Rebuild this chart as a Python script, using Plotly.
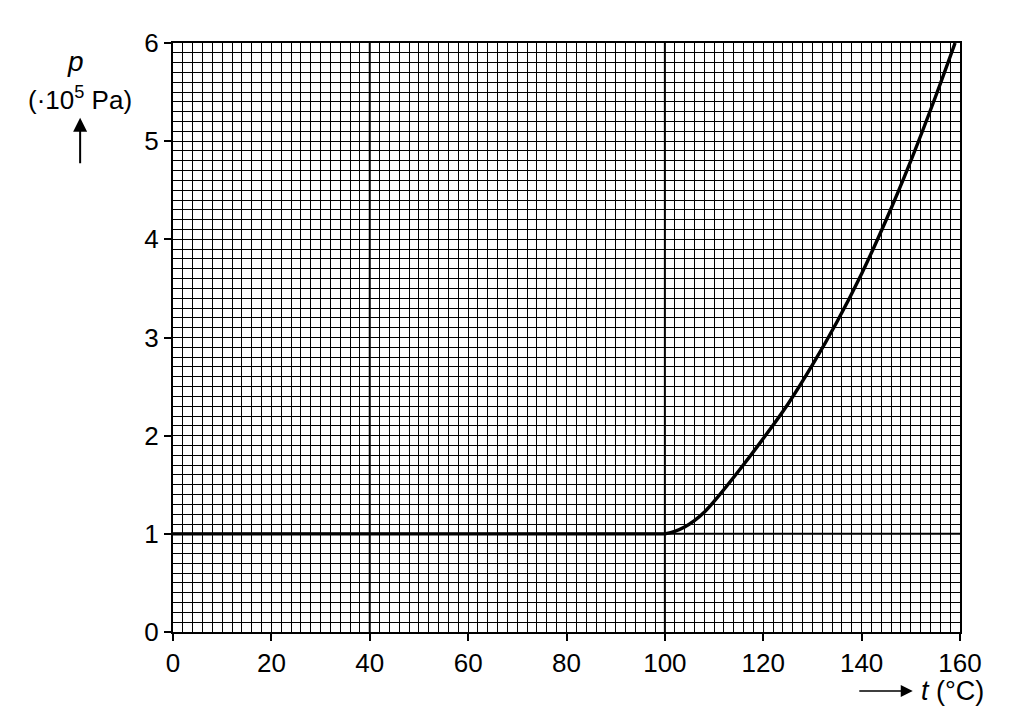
import plotly.graph_objects as go

# vapour pressure curve
flat_t = [0, 100]
flat_p = [1.0, 1.0]
curve_t = [100, 102, 104, 106, 108, 110, 115, 120, 125, 130, 135, 140, 145, 150, 155, 159]
curve_p = [1.0, 1.025, 1.07, 1.135, 1.22, 1.33, 1.64, 1.97, 2.32, 2.72, 3.16, 3.65, 4.20, 4.80, 5.45, 6.0]

x_ticks = [0, 20, 40, 60, 80, 100, 120, 140, 160]
y_ticks = [0, 1, 2, 3, 4, 5, 6]
bold_t = [40, 100]
bold_p = [1]

FONT = "Liberation Sans, Arial, sans-serif"

fig = go.Figure()
fig.add_trace(go.Scatter(x=flat_t, y=flat_p, mode="lines",
                         line=dict(color="black", width=3.2), hoverinfo="skip"))
fig.add_trace(go.Scatter(x=curve_t, y=curve_p, mode="lines",
                         line=dict(color="black", width=3.4, shape="spline", smoothing=1.0),
                         hoverinfo="skip"))

for t in bold_t:
    fig.add_shape(type="line", xref="x", yref="y", x0=t, x1=t, y0=0, y1=6,
                  line=dict(color="black", width=2), layer="below")
for p in bold_p:
    fig.add_shape(type="line", xref="x", yref="y", x0=0, x1=160, y0=p, y1=p,
                  line=dict(color="black", width=2), layer="below")

axis_common = dict(
    showline=True, linecolor="black", linewidth=2, mirror=True,
    ticks="outside", ticklen=7, tickwidth=2, tickcolor="black",
    showgrid=True, gridcolor="black", gridwidth=1,
    zeroline=False, tickfont=dict(family=FONT, size=26, color="black"),
)

fig.update_xaxes(range=[0, 160], tickvals=x_ticks,
                 minor=dict(dtick=2, showgrid=True, gridcolor="black", gridwidth=1, ticks=""),
                 **axis_common)
fig.update_yaxes(range=[0, 6], tickvals=y_ticks,
                 minor=dict(dtick=0.1, showgrid=True, gridcolor="black", gridwidth=1, ticks=""),
                 **axis_common)

# axis labels with arrows
fig.add_annotation(x=-0.1245, y=0.968, xref="paper", yref="paper", xanchor="center", yanchor="middle",
                   text="<i>p</i>", showarrow=False, font=dict(family=FONT, size=28, color="black"))
fig.add_annotation(x=-0.118, y=0.905, xref="paper", yref="paper", xanchor="center", yanchor="middle",
                   text="(·10<sup>5</sup> Pa)", showarrow=False,
                   font=dict(family=FONT, size=26, color="black"))
fig.add_annotation(x=-0.118, y=0.873, xref="paper", yref="paper", ax=0, ay=47,
                   text="", showarrow=True,
                   arrowhead=2, arrowsize=1.4, arrowwidth=2, arrowcolor="black")
fig.add_annotation(x=0.991, y=-0.1, xref="paper", yref="paper", xanchor="center", yanchor="middle",
                   text="<i>t</i> (°C)", showarrow=False, font=dict(family=FONT, size=27, color="black"))
fig.add_annotation(x=0.940, y=-0.1, xref="paper", yref="paper", ax=-55, ay=0,
                   text="", showarrow=True,
                   arrowhead=2, arrowsize=1.6, arrowwidth=1.5, arrowcolor="black")

fig.update_layout(
    width=1010, height=723,
    margin=dict(l=165, r=58, t=35, b=99),
    paper_bgcolor="white", plot_bgcolor="white",
    showlegend=False,
    font=dict(family=FONT, color="black"),
)

fig.write_html("out.html")
